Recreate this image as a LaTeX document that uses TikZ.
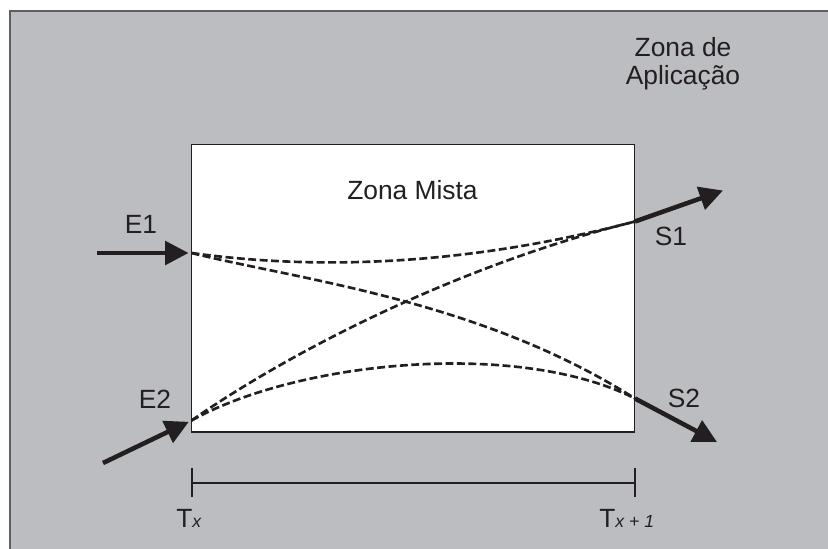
\documentclass[tikz,border=0pt]{standalone}
\usepackage{fontspec}
\setmainfont{Liberation Sans}
\usetikzlibrary{arrows.meta}
\definecolor{bg}{HTML}{BCBDC0}
\definecolor{rim}{HTML}{5E5F61}
\definecolor{ink}{HTML}{231F20}
\newcommand{\tsub}[1]{{\fontsize{10}{10}\selectfont\itshape #1}}

\begin{document}
\begin{tikzpicture}[x=0.02cm, y=-0.02cm,
    flow/.style={ink, line width=2.6pt, -{Triangle[length=4.7mm, width=4.7mm]}},
    route/.style={ink, line width=1.5pt, dash pattern=on 4.5pt off 2pt},
    bar/.style={ink, line width=1.4pt},
    lbl/.style={ink, inner sep=0pt, font=\fontsize{15}{15.9}\selectfont}]
    \useasboundingbox (0,0) rectangle (828,548);
    \clip (0,0) rectangle (828,548);

    % application zone (grey sheet)
    \fill[bg] (10,11) rectangle (840,560);
    \draw[rim, line width=0.9pt] (10,560) -- (10,11) -- (840,11);
    \node[lbl, align=center, anchor=north] (aplic) at (683,37.5) {Zona de\\Aplicação};

    % mixed zone
    \node[draw=ink, line width=0.6pt, fill=white, inner sep=0pt,
          minimum width=8.87cm, minimum height=5.75cm] (mista) at (413.25,288.25) {};
    \node[lbl, anchor=base] (lmista) at (412.5,199) {Zona Mista};

    \coordinate (e1) at (191.5,253);
    \coordinate (e2) at (191.5,420.5);
    \coordinate (s1) at (635,221.5);
    \coordinate (s2) at (635,398.5);
    \coordinate (e1in) at (97,253);
    \coordinate (e2in) at (103,463);
    \coordinate (s1out) at (723,190.5);
    \coordinate (s2out) at (717,442);

    % paths through the mixed zone
    \draw[route] (e1) .. controls (300,268) and (450,270) .. (s1);
    \draw[route] (e1) .. controls (300,280) and (480,300) .. (s2);
    \draw[route] (e2) .. controls (300,345) and (470,262) .. (s1);
    \draw[route] (e2) .. controls (300,360) and (520,340) .. (s2);

    % inputs and outputs
    \draw[flow, shorten >=0.06cm] (e1in) -- (e1);
    \draw[flow, shorten >=0.06cm] (e2in) -- (e2);
    \draw[flow] (s1) -- (s1out);
    \draw[flow] (s2) -- (s2out);
    \node[lbl, anchor=base] (le1) at (141,233) {E1};
    \node[lbl, anchor=base] (le2) at (155,408) {E2};
    \node[lbl, anchor=base] (ls1) at (671,245) {S1};
    \node[lbl, anchor=base] (ls2) at (684,407) {S2};

    % time interval
    \coordinate (ta) at (192,483);
    \coordinate (tb) at (635,483);
    \draw[bar] (ta) -- (tb);
    \draw[bar] (ta) ++(0,-15) -- ++(0,29);
    \draw[bar] (tb) ++(0,-15) -- ++(0,29);
    \node[lbl, anchor=base west] (tx) at (176,527) {T\tsub{x}};
    \node[lbl, anchor=base west] (tx1) at (599,527) {T\tsub{x + 1}};
\end{tikzpicture}
\end{document}
